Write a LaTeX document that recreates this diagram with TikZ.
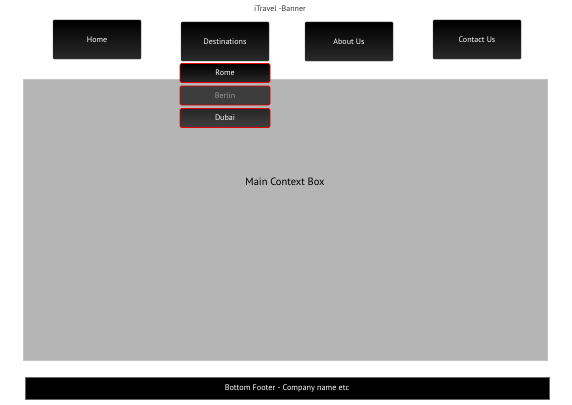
\documentclass[tikz,border=0pt]{standalone}
\usepackage{fontspec}
\setmainfont{PT Sans}
\definecolor{boxgray}{HTML}{B5B5B5}
\definecolor{btnlow}{HTML}{2A2A2A}
\begin{document}
\begin{tikzpicture}[x=1pt, y=-1pt,
		btn/.style={draw=black!70, line width=0.4pt, rounded corners=1pt, top color=black, bottom color=btnlow, text=white, font=\fontsize{8}{9}\selectfont, minimum width=88pt, minimum height=39pt, inner sep=0pt},
		item/.style={draw=red!90!black, line width=0.9pt, rounded corners=1.5pt, text=white, font=\fontsize{8}{9}\selectfont, minimum width=90pt, minimum height=19pt, inner sep=0pt}]
		\useasboundingbox (0, 0) rectangle (572, 404);

		% 标题
		\node[font=\fontsize{8}{9}\selectfont, text=black!80] (title) at (280, 9) {iTravel -Banner};

		% 导航按钮
		\node[btn] (home) at (97, 39.5) {Home};
		\node[btn] (dest) at (225, 41.5) {Destinations};
		\node[btn] (about) at (349, 41.5) {About Us};
		\node[btn] (contact) at (477, 39.5) {Contact Us};

		% 主内容区
		\node[fill=boxgray, draw=boxgray!80, minimum width=524pt, minimum height=281pt, inner sep=0pt] (mainbox) at (285, 219.5) {};
		\node[font=\fontsize{10.5}{12}\selectfont] (maintext) at (285, 182) {Main Context Box};

		% 下拉菜单
		\node[item, top color=black, bottom color=btnlow] (rome) at (225, 73) {Rome};
		\node[item, fill=black!76, text=black!40] (berlin) at (225, 95.5) {Berlin};
		\node[item, top color=black!85, bottom color=black!75] (dubai) at (225, 118) {Dubai};

		% 页脚
		\node[fill=black, draw=black!60, line width=0.4pt, text=white, font=\fontsize{8.2}{9}\selectfont, minimum width=524pt, minimum height=22pt, inner sep=0pt] (footer) at (287, 388) {Bottom Footer - Company name etc};
	\end{tikzpicture}
\end{document}
